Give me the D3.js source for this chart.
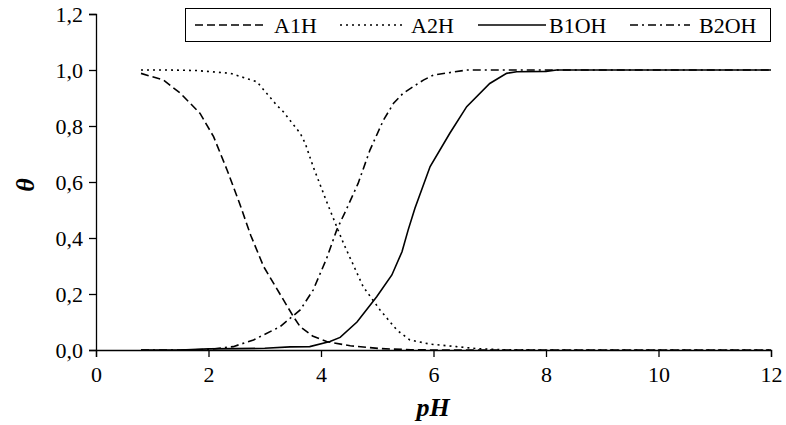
<!DOCTYPE html>
<html>
<head>
<meta charset="utf-8">
<script src="https://cdn.jsdelivr.net/npm/d3@7"></script>
<style>
  body { margin: 0; background: #fff; }
  svg text { font-family: 'Liberation Serif', 'Times New Roman', serif; fill: #000; }
</style>
</head>
<body>
<svg id="chart" width="786" height="425"></svg>
<script>
// values, [pH, theta]
var a1h = [[0.8,0.988],[1.2,0.964],[1.5,0.917],[1.85,0.845],[2.09,0.762],[2.33,0.643],[2.55,0.525],
  [2.75,0.41],[2.98,0.298],[3.27,0.2],[3.51,0.119],[3.63,0.083],[3.85,0.05],[4.1,0.03],[4.52,0.015],
  [5.05,0.005],[5.6,0.001],[6,0],[7,0],[8,0],[9,0],[10,0],[11,0],[12,0]];
var a2h = [[0.8,1.0],[1.3,1.0],[1.79,0.998],[2.39,0.988],[2.86,0.958],[3.21,0.875],[3.33,0.851],
  [3.63,0.774],[3.72,0.738],[3.86,0.655],[4.1,0.53],[4.28,0.44],[4.4,0.381],[4.75,0.226],[5.05,0.143],
  [5.35,0.071],[5.58,0.036],[5.94,0.021],[6.41,0.012],[6.77,0.005],[7.2,0.001],[8,0],[9,0],[10,0],[11,0],[12,0]];
var b1oh = [[0.8,0],[1.5,0],[2,0.004],[2.5,0.005],[3,0.006],[3.45,0.011],[3.8,0.012],[4.16,0.03],
  [4.34,0.045],[4.64,0.1],[4.99,0.19],[5.26,0.268],[5.44,0.351],[5.55,0.429],
  [5.67,0.506],[5.94,0.655],[6.29,0.774],[6.59,0.869],[7.0,0.952],[7.3,0.988],[7.48,0.994],
  [8.0,0.995],[8.19,1.0],[9,1.0],[10,1.0],[11,1.0],[12,1.0]];
var b2oh = [[0.8,0],[1.5,0],[2,0.002],[2.44,0.012],[2.8,0.036],[3.27,0.083],[3.63,0.143],[3.86,0.214],
  [4.1,0.327],[4.28,0.429],[4.46,0.506],[4.66,0.595],[4.87,0.714],[5.11,0.821],[5.29,0.881],
  [5.46,0.917],[5.82,0.964],[6.0,0.982],[6.59,1.0],[7,1.0],[8,1.0],[9,1.0],[10,1.0],[11,1.0],[12,1.0]];

var seriesNames = ["A1H", "A2H", "B1OH", "B2OH"];
var seriesData = [a1h, a2h, b1oh, b2oh];
var dashes = ["8,4", "2,4", null, "8,4,2,4"];

var xTicks = [0, 2, 4, 6, 8, 10, 12];
var yTicks = [0, 0.2, 0.4, 0.6, 0.8, 1.0, 1.2];

var svg = d3.select("#chart");
var x = d3.scaleLinear().domain([0, 12]).range([96, 771]);
var y = d3.scaleLinear().domain([0, 1.2]).range([350, 14]);
var comma = function(d){ return d3.format(".1f")(d).replace(".", ","); };

// y axis
var gy = svg.append("g").attr("transform", "translate(96,0)")
  .call(d3.axisLeft(y).tickValues(yTicks).tickFormat(comma).tickSize(7).tickPadding(6));

// x axis
var gx = svg.append("g").attr("transform", "translate(0,350)")
  .call(d3.axisBottom(x).tickValues(xTicks).tickFormat(d3.format("d")).tickSize(7).tickPadding(9));

// d3 puts font attrs on the axis groups, drop them so the css font wins
[gx, gy].forEach(function(g){
  g.attr("font-family", null).attr("font-size", null);
  g.selectAll("text").style("font-size", "22px");
});

svg.selectAll(".domain").attr("stroke", "#000").attr("stroke-width", 1.3);
svg.selectAll(".tick line").attr("stroke", "#000").attr("stroke-width", 1.3);

// curves
var line = d3.line().x(function(d){ return x(d[0]); }).y(function(d){ return y(d[1]); });
seriesData.forEach(function(s, i){
  svg.append("path")
    .attr("d", line(s))
    .attr("fill", "none")
    .attr("stroke", "#000")
    .attr("stroke-width", 1.6)
    .attr("stroke-dasharray", dashes[i]);
});

// axis titles
svg.append("text").attr("x", 433).attr("y", 416).attr("text-anchor", "middle")
  .style("font-size", "26px").style("font-weight", "bold").style("font-style", "italic").text("pH");
svg.append("text").attr("transform", "translate(34,185) rotate(-90)").attr("text-anchor", "middle")
  .style("font-size", "26px").style("font-weight", "bold").style("font-style", "italic").text("θ");

// legend
svg.append("rect").attr("x", 185.5).attr("y", 8.5).attr("width", 585).attr("height", 33)
  .attr("fill", "#fff").attr("stroke", "#000").attr("stroke-width", 1);
var legX = [195, 340, 478, 630];
var legW = [70, 62, 68, 60];
seriesNames.forEach(function(n, i){
  svg.append("line").attr("x1", legX[i]).attr("x2", legX[i] + legW[i]).attr("y1", 25).attr("y2", 25)
    .attr("stroke", "#000").attr("stroke-width", 1.6).attr("stroke-dasharray", dashes[i]);
  svg.append("text").attr("x", legX[i] + legW[i] + (i == 2 ? 3 : 9)).attr("y", 33)
    .style("font-size", "22px").text(n);
});
</script>
</body>
</html>
